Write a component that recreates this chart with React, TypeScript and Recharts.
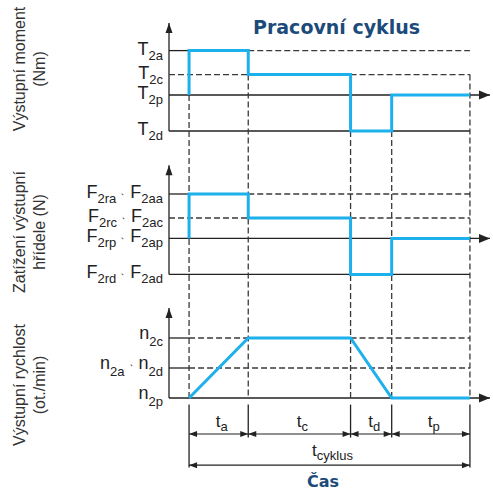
import React from 'react';
import { LineChart, Line, XAxis, YAxis, ReferenceLine } from 'recharts';

// time axis: start of cycle, end of ta, tc, td, tp
const phaseBounds = [1, 3.95, 9.05, 11.1, 15];
const phaseLabels = ['a', 'c', 'd', 'p'];
const timeMax = 16;

// levels, order a, c, p, d
const torqueLevels = [6.7, 4.7, 3, 0];
const torqueTicks = [['T', '2a'], ['T', '2c'], ['T', '2p'], ['T', '2d']];
const loadLevels = [6.7, 4.7, 3, 0];
const loadTicks = [
  ['F', '2ra', 'F', '2aa'],
  ['F', '2rc', 'F', '2ac'],
  ['F', '2rp', 'F', '2ap'],
  ['F', '2rd', 'F', '2ad'],
];
// levels, order c, a/d, p
const speedLevels = [5, 2.5, 0];
const speedTicks = [['n', '2c'], ['n', '2a', 'n', '2d'], ['n', '2p']];

// value held before start, then during ta, tc, td, tp
const torqueSteps = [3, 6.7, 4.7, 0, 3];
const loadSteps = [3, 6.7, 4.7, 0, 3];
// speed at each phase boundary
const speedPoints = [0, 5, 5, 0, 0];

const panelBase = [28.25, 16.3, 6];
const panelTop = [9, 9.1, 7.5];
const sideLabels = [
  ['Výstupní moment', '(Nm)'],
  ['Zatížení výstupní', 'hřídele (N)'],
  ['Výstupní rychlost', '(ot./min)'],
];
const sideCenters = [69, 232, 385];

const BLUE = '#1cb0ec';
const INK = '#222';
const DASH = '#3a3a3a';
const NAVY = '#1c4a7a';
const FONT = '"Liberation Sans", Arial, sans-serif';

type Seg = { x: [number, number]; y: [number, number]; kind: string; label?: string[] };

const [t0, t1, t2, t3, t4] = phaseBounds;
const segs: Seg[] = [];
[torqueLevels, loadLevels].forEach((lv, i) => {
  const b = panelBase[i];
  const [a, c, p, d] = lv.map(v => v + b);
  segs.push({ x: [0, 0], y: [d, b + panelTop[i]], kind: 'yaxis' });
  segs.push({ x: [0, t0], y: [a, a], kind: 'solid' });
  segs.push({ x: [t1, t4], y: [a, a], kind: 'dash' });
  segs.push({ x: [0, t1], y: [c, c], kind: 'dash' });
  segs.push({ x: [t2, t4], y: [c, c], kind: 'dash' });
  segs.push({ x: [0, timeMax], y: [p, p], kind: 'xaxis' });
  segs.push({ x: [0, t4], y: [d, d], kind: 'solid' });
});
const b3 = panelBase[2];
const [nc, nad, np] = speedLevels.map(v => v + b3);
segs.push({ x: [0, 0], y: [np, b3 + panelTop[2]], kind: 'yaxis' });
segs.push({ x: [0, t0], y: [nc, nc], kind: 'solid' });
segs.push({ x: [t0, t1], y: [nc, nc], kind: 'dash' });
segs.push({ x: [t2, t4], y: [nc, nc], kind: 'dash' });
segs.push({ x: [0, t0], y: [nad, nad], kind: 'solid' });
segs.push({ x: [t0, t4], y: [nad, nad], kind: 'dash' });
segs.push({ x: [0, timeMax], y: [np, np], kind: 'xaxis' });

// vertical guides start at p, c, d, d, c of the torque panel
const vTops = [torqueLevels[2], torqueLevels[1], torqueLevels[3], torqueLevels[3], torqueLevels[1]];
phaseBounds.forEach((t, i) => segs.push({ x: [t, t], y: [panelBase[0] + vTops[i], np], kind: 'dash' }));

// dimension lines under the chart
const dimRow = 3, totalRow = 0.4, extTop = 5.45, extShort = 2.7, extLong = 0.2;
phaseBounds.forEach((t, i) =>
  segs.push({ x: [t, t], y: [extTop, i === 0 || i === 4 ? extLong : extShort], kind: 'solid' })
);
phaseLabels.forEach((l, i) =>
  segs.push({ x: [phaseBounds[i], phaseBounds[i + 1]], y: [dimRow, dimRow], kind: 'dim', label: ['t', l] })
);
segs.push({ x: [t0, t4], y: [totalRow, totalRow], kind: 'dimTotal', label: ['t', 'cyklus'] });

const yTicks = [
  ...torqueLevels.map((v, i) => ({ v: v + panelBase[0], parts: torqueTicks[i] })),
  ...loadLevels.map((v, i) => ({ v: v + panelBase[1], parts: loadTicks[i] })),
  ...speedLevels.map((v, i) => ({ v: v + panelBase[2], parts: speedTicks[i] })),
];

const stepPoints = (steps: number[], base: number) => {
  const pts = [{ t: phaseBounds[0], v: steps[0] + base }];
  for (let i = 0; i < 4; i++) {
    pts.push({ t: phaseBounds[i], v: steps[i + 1] + base });
    pts.push({ t: phaseBounds[i + 1], v: steps[i + 1] + base });
  }
  return pts;
};
const torqueData = stepPoints(torqueSteps, panelBase[0]);
const loadData = stepPoints(loadSteps, panelBase[1]);
const speedData = phaseBounds.map((t, i) => ({ t, v: speedPoints[i] + b3 }));

const arrowShape = (len: number, half: number, both: boolean) => (p: any) => {
  const { x1, y1, x2, y2, stroke, strokeWidth } = p;
  const head = (tx: number, ty: number, fx: number, fy: number) => {
    const a = Math.atan2(ty - fy, tx - fx);
    const c = Math.cos(a), s = Math.sin(a);
    const bx = tx - len * c, by = ty - len * s;
    return (
      <polygon
        points={`${tx},${ty} ${bx - s * half},${by + c * half} ${bx + s * half},${by - c * half}`}
        fill={stroke}
      />
    );
  };
  return (
    <g>
      <line x1={x1} y1={y1} x2={x2} y2={y2} stroke={stroke} strokeWidth={strokeWidth} />
      {head(x2, y2, x1, y1)}
      {both && head(x1, y1, x2, y2)}
    </g>
  );
};

const dimLabel = (parts: string[], lift: number) => (p: any) => {
  const vb = p.viewBox;
  return (
    <text x={vb.x + vb.width / 2 + 3} y={vb.y - lift} textAnchor="middle" fontFamily={FONT} fontSize={17} fill={INK}>
      <tspan>{parts[0]}</tspan>
      <tspan fontSize={13} dy={4}>{parts[1]}</tspan>
    </text>
  );
};

const AxisTick = (props: any) => {
  const { y, payload } = props;
  const tk = yTicks.find(t => Math.abs(t.v - payload.value) < 1e-6);
  if (!tk) return null;
  const isN = tk.parts[0] === 'n';
  const sub = isN ? 7 : 5;
  const spans: React.ReactNode[] = [];
  for (let i = 0; i < tk.parts.length; i += 2) {
    if (i > 0) {
      spans.push(<tspan key={'sep' + i} fontSize={11} dx={4} dy={-sub - 4}>{'、'}</tspan>);
      spans.push(<tspan key={'m' + i} dx={-1} dy={4}>{tk.parts[i]}</tspan>);
    } else {
      spans.push(<tspan key={'m' + i}>{tk.parts[i]}</tspan>);
    }
    spans.push(<tspan key={'s' + i} fontSize={13} dy={sub}>{tk.parts[i + 1]}</tspan>);
  }
  return (
    <text x={163} y={y + (isN ? 1 : 4)} textAnchor="end" fontFamily={FONT} fontSize={18} fill={INK}>
      {spans}
    </text>
  );
};

function segProps(s: Seg) {
  switch (s.kind) {
    case 'dash':
      return { stroke: DASH, strokeWidth: 1.3, strokeDasharray: '6 3' };
    case 'xaxis':
      return { stroke: INK, strokeWidth: 1.3, shape: arrowShape(11, 4.5, false) };
    case 'yaxis':
      return { stroke: INK, strokeWidth: 1.3, shape: arrowShape(10, 3.5, false) };
    case 'dim':
      return { stroke: INK, strokeWidth: 1.2, shape: arrowShape(8, 3, true), label: dimLabel(s.label!, 7) };
    case 'dimTotal':
      return { stroke: INK, strokeWidth: 1.2, shape: arrowShape(8, 3, true), label: dimLabel(s.label!, 9) };
    default:
      return { stroke: INK, strokeWidth: 1.3 };
  }
}

export default function App() {
  return (
    <div style={{ position: 'absolute', left: 0, top: 0, width: 493, height: 496, background: '#fff' }}>
      <LineChart width={493} height={496} margin={{ top: 20, right: 3, bottom: 26, left: 0 }}>
        <XAxis type="number" dataKey="t" domain={[0, timeMax]} hide allowDataOverflow />
        <YAxis
          type="number"
          domain={[0, 37.5]}
          ticks={yTicks.map(t => t.v)}
          interval={0}
          width={169}
          axisLine={false}
          tickLine={false}
          tickSize={0}
          tickMargin={6}
          tick={<AxisTick />}
          allowDataOverflow
        />
        {segs.map((s, i) => (
          <ReferenceLine
            key={i}
            segment={[{ x: s.x[0], y: s.y[0] }, { x: s.x[1], y: s.y[1] }]}
            {...(segProps(s) as any)}
          />
        ))}
        <Line data={torqueData} dataKey="v" stroke={BLUE} strokeWidth={3} dot={false} isAnimationActive={false} />
        <Line data={loadData} dataKey="v" stroke={BLUE} strokeWidth={3} dot={false} isAnimationActive={false} />
        <Line data={speedData} dataKey="v" stroke={BLUE} strokeWidth={3} dot={false} isAnimationActive={false} />
      </LineChart>
      <svg width={493} height={496} style={{ position: 'absolute', left: 0, top: 0, pointerEvents: 'none' }}>
        <text x={253} y={34} fontFamily='"DejaVu Sans", sans-serif' fontWeight="bold" fontSize={19} fill={NAVY}>
          Pracovní cyklus
        </text>
        <text x={323} y={487} textAnchor="middle" fontFamily='"DejaVu Sans", sans-serif' fontWeight="bold" fontSize={16} fill={NAVY}>
          Čas
        </text>
        {sideLabels.map(([l1, l2], i) => (
          <g key={i} transform={`translate(0, ${sideCenters[i]}) rotate(-90)`}>
            <text x={0} y={25} textAnchor="middle" fontFamily={FONT} fontSize={16} fill="#333">{l1}</text>
            <text x={0} y={45} textAnchor="middle" fontFamily={FONT} fontSize={16} fill="#333">{l2}</text>
          </g>
        ))}
      </svg>
    </div>
  );
}
